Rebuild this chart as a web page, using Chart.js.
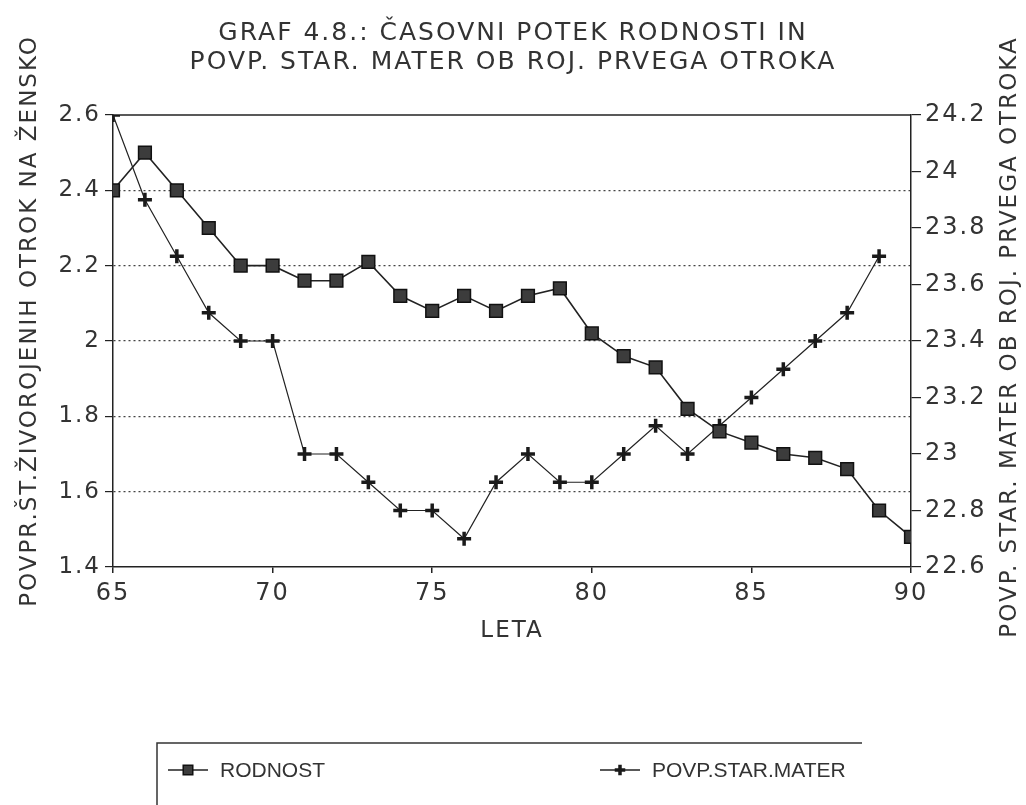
<!DOCTYPE html>
<html>
<head>
<meta charset="utf-8">
<script src="https://cdn.jsdelivr.net/npm/chart.js@4.4.1/dist/chart.umd.min.js"></script>
<style>
  html, body { margin: 0; padding: 0; background: #fff; }
  #wrap { width: 1026px; height: 805px; position: relative; }
</style>
</head>
<body>
<div id="wrap"><canvas id="graf"></canvas></div>
<script>
// podatki
const leta = [65, 66, 67, 68, 69, 70, 71, 72, 73, 74, 75, 76, 77, 78, 79, 80, 81, 82, 83, 84, 85, 86, 87, 88, 89, 90];
const rodnost = [2.40, 2.50, 2.40, 2.30, 2.20, 2.20, 2.16, 2.16, 2.21, 2.12, 2.08, 2.12, 2.08, 2.12, 2.14, 2.02, 1.96, 1.93, 1.82, 1.76, 1.73, 1.70, 1.69, 1.66, 1.55, 1.48];
const starostMater = [24.2, 23.9, 23.7, 23.5, 23.4, 23.4, 23.0, 23.0, 22.9, 22.8, 22.8, 22.7, 22.9, 23.0, 22.9, 22.9, 23.0, 23.1, 23.0, 23.1, 23.2, 23.3, 23.4, 23.5, 23.7, null];

const letaTicks = [65, 70, 75, 80, 85, 90];
const rodnostTicks = [1.4, 1.6, 1.8, 2, 2.2, 2.4, 2.6];
const starostTicks = [22.6, 22.8, 23, 23.2, 23.4, 23.6, 23.8, 24, 24.2];

const naslov = ['GRAF 4.8.: ČASOVNI POTEK RODNOSTI IN', 'POVP. STAR. MATER OB ROJ. PRVEGA OTROKA'];
const levaOs = 'POVPR.ŠT.ŽIVOROJENIH OTROK NA ŽENSKO';
const desnaOs = 'POVP. STAR. MATER OB ROJ. PRVEGA OTROKA';

Chart.defaults.font.family = '"DejaVu Sans", sans-serif';
Chart.defaults.color = '#333';

const setTicks = arr => s => { s.ticks = arr.map(v => ({ value: v })); };

// okvir, naslova osi in legenda
const okvir = {
    id: 'okvir',
    beforeDraw(chart) {
        chart.ctx.letterSpacing = '2px';
    },
    beforeDatasetsDraw(chart) {
        const { ctx, chartArea: a } = chart;
        ctx.save();
        ctx.strokeStyle = '#222';
        ctx.lineWidth = 1.5;
        ctx.beginPath();
        ctx.moveTo(a.left, a.top);
        ctx.lineTo(a.right, a.top);
        ctx.stroke();
        ctx.restore();
    },
    afterDraw(chart) {
        const ctx = chart.ctx;
        ctx.save();
        ctx.fillStyle = '#333';
        ctx.font = '23px "DejaVu Sans"';
        ctx.textAlign = 'center';
        ctx.textBaseline = 'middle';
        [[30, 321, levaOs], [1010, 337, desnaOs]].forEach(([x, y, t]) => {
            ctx.save();
            ctx.translate(x, y);
            ctx.rotate(-Math.PI / 2);
            ctx.fillText(t, 0, 0);
            ctx.restore();
        });

        // legenda
        ctx.letterSpacing = '0px';
        ctx.strokeStyle = '#333';
        ctx.lineWidth = 1.5;
        ctx.beginPath();
        ctx.moveTo(157, 830);
        ctx.lineTo(157, 743);
        ctx.lineTo(862, 743);
        ctx.stroke();

        const legX = [168, 600];
        const y = 770;
        ctx.font = '21px "Liberation Sans"';
        ctx.textAlign = 'left';
        chart.data.datasets.forEach((ds, i) => {
            const x0 = legX[i];
            ctx.strokeStyle = ds.borderColor;
            ctx.lineWidth = 1.5;
            ctx.beginPath();
            ctx.moveTo(x0, y);
            ctx.lineTo(x0 + 40, y);
            ctx.stroke();
            ctx.fillStyle = ds.pointBackgroundColor;
            ctx.strokeStyle = ds.pointBorderColor;
            ctx.lineWidth = ds.pointBorderWidth;
            Chart.helpers.drawPoint(ctx, {
                pointStyle: ds.pointStyle,
                radius: ds.pointRadius * 0.75,
                borderWidth: ds.pointBorderWidth,
                rotation: 0
            }, x0 + 20, y);
            ctx.fillStyle = '#333';
            ctx.fillText(ds.label, x0 + 52, y + 1);
        });
        ctx.restore();
        ctx.letterSpacing = '0px';
    }
};

new Chart(document.getElementById('graf'), {
    type: 'line',
    data: {
        datasets: [
            {
                label: 'RODNOST',
                yAxisID: 'y',
                data: leta.map((x, i) => ({ x: x, y: rodnost[i] })),
                borderColor: '#222',
                borderWidth: 1.6,
                pointStyle: 'rect',
                pointRadius: 9,
                pointBorderWidth: 1.5,
                pointBorderColor: '#111',
                pointBackgroundColor: '#3c3c3c',
                tension: 0
            },
            {
                label: 'POVP.STAR.MATER',
                yAxisID: 'y1',
                data: leta.map((x, i) => ({ x: x, y: starostMater[i] })),
                borderColor: '#222',
                borderWidth: 1.2,
                pointStyle: 'cross',
                pointRadius: 7,
                pointBorderWidth: 3.5,
                pointBorderColor: '#1a1a1a',
                pointBackgroundColor: '#1a1a1a',
                tension: 0
            }
        ]
    },
    options: {
        responsive: true,
        maintainAspectRatio: false,
        animation: false,
        layout: { padding: 0 },
        plugins: {
            legend: { display: false },
            tooltip: { enabled: false },
            title: {
                display: true,
                text: naslov,
                color: '#333',
                font: { size: 25, weight: 'normal', lineHeight: 1.16 },
                padding: { top: 18.5, bottom: 38.5 }
            }
        },
        scales: {
            x: {
                type: 'linear',
                min: 65,
                max: 90,
                afterBuildTicks: setTicks(letaTicks),
                afterFit: s => { s.height = 238; },
                grid: { drawOnChartArea: false, tickLength: 6, color: '#222', lineWidth: 1.5 },
                border: { color: '#222', width: 1.5 },
                ticks: { font: { size: 24 }, padding: 6, maxRotation: 0 },
                title: {
                    display: true,
                    text: 'LETA',
                    font: { size: 23 },
                    padding: { top: 0, bottom: 160 }
                }
            },
            y: {
                position: 'left',
                min: 1.4,
                max: 2.6,
                afterBuildTicks: setTicks(rodnostTicks),
                afterFit: s => { s.width = 113; },
                grid: {
                    color: c => (c.tick && (c.tick.value === 2.6 || c.tick.value === 1.4)) ? 'rgba(0,0,0,0)' : '#444',
                    tickColor: '#222',
                    tickLength: 8,
                    lineWidth: 1.2
                },
                border: { color: '#222', width: 1.5, dash: [2, 3] },
                ticks: { font: { size: 23 }, padding: 4, callback: v => String(v) }
            },
            y1: {
                position: 'right',
                min: 22.6,
                max: 24.2,
                afterBuildTicks: setTicks(starostTicks),
                afterFit: s => { s.width = 115; },
                grid: { drawOnChartArea: false, tickLength: 10, color: '#222', lineWidth: 1.2 },
                border: { color: '#222', width: 1.5 },
                ticks: { font: { size: 24 }, padding: 4, callback: v => String(v) }
            }
        }
    },
    plugins: [okvir]
});
</script>
</body>
</html>
